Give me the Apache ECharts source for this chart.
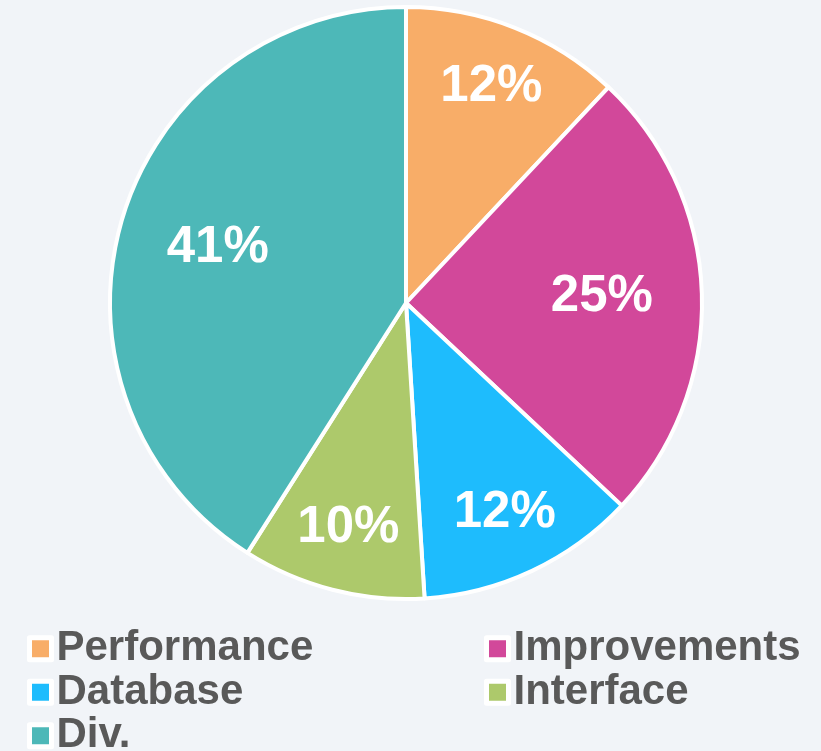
<!DOCTYPE html>
<html>
<head>
<meta charset="utf-8">
<title>Pie</title>
<script src="https://cdn.jsdelivr.net/npm/echarts@6/dist/echarts.min.js"></script>
<style>
    html, body { margin: 0; padding: 0; background: #f1f4f8; }
    #main { width: 821px; height: 751px; }
</style>
</head>
<body>
<div id="main"></div>
<script>
    // chart data
    var categories = ['Performance', 'Improvements', 'Database', 'Interface', 'Div.'];
    var values = [12, 25, 12, 10, 41];
    var colors = ['#f8ad68', '#d2489a', '#1ebcfd', '#adc96b', '#4db8b8'];
    // which slices put their label nearer the centre
    var innerLabels = ['Improvements', 'Div.'];

    var pieData = categories.map(function (name, i) {
        return { name: name, value: values[i] };
    });

    // transparent copy of the pie that only carries labels
    function labelRing(r0, inner) {
        return {
            type: 'pie',
            center: [406, 303],
            radius: [r0, 296],
            startAngle: 90,
            clockwise: true,
            silent: true,
            legendHoverLink: false,
            itemStyle: { color: 'rgba(0,0,0,0)', borderWidth: 0 },
            label: {
                position: 'inside',
                formatter: '{d}%',
                color: '#ffffff',
                fontFamily: 'Liberation Sans, Arial, sans-serif',
                fontSize: 51,
                fontWeight: 'bold'
            },
            labelLine: { show: false },
            data: pieData.map(function (d) {
                var isInner = innerLabels.indexOf(d.name) >= 0;
                return { name: d.name, value: d.value, label: { show: isInner === inner } };
            })
        };
    }

    var legendBase = {
        orient: 'vertical',
        top: 622,
        height: 140,
        itemGap: 0,
        itemWidth: 22,
        itemHeight: 22,
        itemTextGap: 10,
        icon: 'rect',
        itemStyle: { borderColor: '#ffffff', borderWidth: 5 },
        textStyle: {
            fontFamily: 'Liberation Sans, Arial, sans-serif',
            fontSize: 42,
            fontWeight: 'bold',
            color: '#595959',
            lineHeight: 43.5
        }
    };

    var myChart = echarts.init(document.getElementById('main'));
    myChart.setOption({
        backgroundColor: '#f1f4f8',
        color: colors,
        animation: false,
        legend: [
            Object.assign({}, legendBase, { left: 22, data: ['Performance', 'Database', 'Div.'] }),
            Object.assign({}, legendBase, { left: 479, data: ['Improvements', 'Interface'] })
        ],
        series: [{
            name: 'pie',
            type: 'pie',
            center: [406, 303],
            radius: [0, 296],
            startAngle: 90,
            clockwise: true,
            itemStyle: { borderColor: '#ffffff', borderWidth: 4 },
            label: { show: false },
            labelLine: { show: false },
            data: pieData
        }, labelRing(90, true), labelRing(162, false)]
    });
</script>
</body>
</html>
